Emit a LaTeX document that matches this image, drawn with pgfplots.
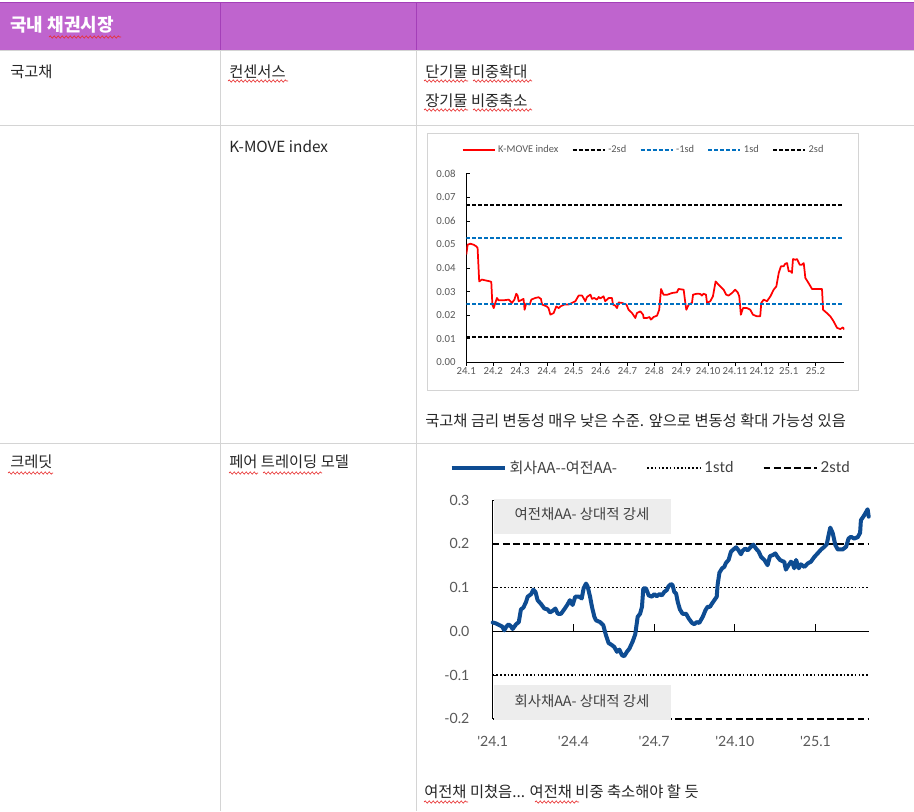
\documentclass[border=0pt]{standalone}
\usepackage{pgfplots}
\pgfplotsset{compat=1.18}
\usepackage{fontspec}
\setmainfont{Noto Sans CJK KR}
\newfontfamily\calfont{Carlito}
\newfontfamily\latofont{Lato}
\usetikzlibrary{decorations.pathmorphing}
\definecolor{hdr}{HTML}{BF64CE}
\definecolor{hdrline}{HTML}{A43FB8}
\definecolor{gridc}{HTML}{D4D4D4}
\definecolor{txt}{HTML}{262626}
\definecolor{txtb}{HTML}{404040}
\definecolor{sdblue}{HTML}{0070C0}
\definecolor{navy}{HTML}{0E4C92}
\definecolor{tickc}{HTML}{595959}
\definecolor{boxg}{HTML}{EDEDED}
\definecolor{squigc}{HTML}{E83030}
\tikzset{
  body/.style={anchor=west, inner sep=0pt, text=txt, font=\fontsize{11.5}{13}\selectfont},
  squig/.style={squigc, line width=0.5pt, decorate, decoration={snake, amplitude=0.8pt, segment length=3pt}}
}
\begin{document}
\begin{tikzpicture}[x=0.75pt,y=-0.75pt]
\path[use as bounding box] (0,0) rectangle (914,811);
\fill[white] (0,0) rectangle (914,811);
% header
\fill[hdr] (0,2) rectangle (914,50);
\draw[hdrline, line width=0.75pt] (0,2) -- (914,2);
\draw[hdrline, line width=0.6pt] (220,2) -- (220,50) (416,2) -- (416,50);
% grid
\draw[gridc, line width=0.75pt] (0,50) -- (914,50) (0,125) -- (914,125) (0,443) -- (914,443);
\draw[gridc, line width=0.75pt] (220,50) -- (220,811) (416,50) -- (416,811);
\draw[gridc, line width=0.75pt] (427,133) rectangle (858,390);
% texts
\node[anchor=west, inner sep=0pt, text=white, font=\fontsize{13.5}{15}\selectfont\bfseries] at (10,24.5) {국내 채권시장};
\node[body] at (10,71.5) {국고채};
\node[body] at (229,71.5) {컨센서스};
\node[body] at (425,71.5) {단기물 비중확대};
\node[body] at (425,101) {장기물 비중축소};
\node[body] at (229,146) {K-MOVE index};
\node[body] at (425,421) {국고채 금리 변동성 매우 낮은 수준. 앞으로 변동성 확대 가능성 있음};
\node[body] at (10,461.5) {크레딧};
\node[body] at (229,461.5) {페어 트레이딩 모델};
\node[body] at (424,791.5) {여전채 미쳤음... 여전채 비중 축소해야 할 듯};
% spell-check squiggles
\draw[squig] (49,37) -- (121,37);
\draw[squig] (228,81) -- (288,81);
\draw[squig] (424,81) -- (468,81);
\draw[squig] (473,81) -- (532,81);
\draw[squig] (424,110) -- (468,110);
\draw[squig] (473,110) -- (532,110);
\draw[squig] (8,473) -- (53,473);
\draw[squig] (229,473) -- (258,473);
\draw[squig] (263,473) -- (322,473);
\draw[squig] (424,802) -- (468,802);
\draw[squig] (535,802) -- (579,802);
\coordinate (c1) at (466.3,362.3);
\coordinate (c2) at (492.7,718.7);
% ---------- chart 1 ----------
\begin{axis}[
  at={(c1)}, anchor=south west,
  scale only axis, width=283.5pt, height=141.45pt,
  xmin=0, xmax=14.07, ymin=0, ymax=0.08,
  axis lines*=left,
  axis line style={black, line width=0.6pt},
  xtick={0,1,2,3,4,5,6,7,8,9,10,11,12,13},
  xticklabels={24.1,24.2,24.3,24.4,24.5,24.6,24.7,24.8,24.9,24.10,24.11,24.12,25.1,25.2},
  ytick={0,0.01,0.02,0.03,0.04,0.05,0.06,0.07,0.08},
  scaled y ticks=false,
  /pgf/number format/assume math mode=true,
  yticklabel style={/pgf/number format/fixed, /pgf/number format/fixed zerofill, /pgf/number format/precision=2, xshift=-4.5pt},
  xtick align=outside, ytick align=inside,
  major tick length=2.5pt,
  tick style={black, line width=0.5pt},
  tick label style={font=\calfont\fontsize{8.1}{9}\selectfont, text=tickc},
  xticklabel style={inner sep=1pt},
  legend style={at={(0.47,1.126)}, anchor=center, draw=none, fill=none,
    font=\calfont\fontsize{7.8}{8}\selectfont, nodes={text=tickc},
    legend columns=5, /tikz/every even column/.append style={column sep=8pt}},
  legend image code/.code={\draw[#1] (0pt,0pt) -- (24pt,0pt);},
]
\addplot[red, line width=1.3pt, line join=round] coordinates {
(0,0.0457) (0.05,0.0499) (0.15,0.0503) (0.27,0.0499) (0.37,0.0492) (0.42,0.0485) (0.48,0.0343) (0.58,0.0351) (0.77,0.0346) (0.89,0.0343) (0.93,0.0341) (0.97,0.0245) (1.02,0.0230) (1.08,0.0252) (1.14,0.0273) (1.20,0.0263) (1.39,0.0263) (1.58,0.0266) (1.70,0.0252) (1.79,0.0266) (1.86,0.0291) (1.91,0.0283) (1.95,0.0259) (2.03,0.0263) (2.13,0.0269) (2.17,0.0223) (2.23,0.0249) (2.36,0.0245) (2.42,0.0266) (2.57,0.0273) (2.69,0.0276) (2.78,0.0269) (2.82,0.0245) (3.00,0.0237) (3.06,0.0230) (3.13,0.0202) (3.25,0.0209) (3.35,0.0237) (3.44,0.0230) (3.50,0.0237) (3.65,0.0245) (3.81,0.0245) (3.93,0.0252) (4.06,0.0259) (4.18,0.0283) (4.31,0.0283) (4.43,0.0259) (4.49,0.0277) (4.62,0.0287) (4.68,0.0269) (4.76,0.0273) (4.86,0.0266) (4.93,0.0277) (4.99,0.0271) (5.11,0.0280) (5.17,0.0259) (5.30,0.0273) (5.42,0.0273) (5.46,0.0245) (5.55,0.0240) (5.61,0.0230) (5.67,0.0254) (5.79,0.0252) (5.96,0.0245) (6.04,0.0223) (6.17,0.0209) (6.29,0.0188) (6.35,0.0209) (6.48,0.0216) (6.58,0.0202) (6.60,0.0188) (6.72,0.0188) (6.82,0.0192) (6.87,0.0181) (6.97,0.0192) (7.10,0.0198) (7.18,0.0223) (7.25,0.0311) (7.34,0.0287) (7.49,0.0287) (7.66,0.0294) (7.84,0.0297) (7.90,0.0311) (8.09,0.0308) (8.15,0.0254) (8.19,0.0223) (8.28,0.0245) (8.40,0.0252) (8.44,0.0287) (8.59,0.0291) (8.71,0.0290) (8.77,0.0283) (8.83,0.0291) (8.92,0.0287) (8.96,0.0252) (9.08,0.0259) (9.18,0.0280) (9.28,0.0343) (9.39,0.0329) (9.58,0.0308) (9.67,0.0287) (9.76,0.0283) (9.89,0.0294) (10.01,0.0308) (10.10,0.0297) (10.16,0.0280) (10.22,0.0202) (10.30,0.0230) (10.45,0.0230) (10.57,0.0223) (10.67,0.0202) (10.82,0.0195) (10.94,0.0195) (10.98,0.0252) (11.07,0.0266) (11.19,0.0259) (11.32,0.0280) (11.44,0.0308) (11.54,0.0322) (11.63,0.0379) (11.71,0.0407) (11.81,0.0407) (11.87,0.0418) (11.94,0.0421) (12.00,0.0386) (12.08,0.0386) (12.12,0.0379) (12.16,0.0438) (12.25,0.0435) (12.31,0.0438) (12.41,0.0414) (12.49,0.0414) (12.56,0.0421) (12.62,0.0358) (12.74,0.0336) (12.87,0.0311) (13.05,0.0311) (13.24,0.0311) (13.28,0.0223) (13.42,0.0209) (13.55,0.0195) (13.67,0.0174) (13.80,0.0146) (13.92,0.0141) (14.02,0.0148) (14.07,0.0139)
};
\addlegendentry{K-MOVE index}
\addplot[black, line width=1.4pt, dash pattern=on 3pt off 1.5pt] coordinates {(0,0.0109) (14.07,0.0109)};
\addlegendentry{-2sd}
\addplot[sdblue, line width=1.4pt, dash pattern=on 3pt off 1.5pt] coordinates {(0,0.0247) (14.07,0.0247)};
\addlegendentry{-1sd}
\addplot[sdblue, line width=1.4pt, dash pattern=on 3pt off 1.5pt] coordinates {(0,0.0529) (14.07,0.0529)};
\addlegendentry{1sd}
\addplot[black, line width=1.4pt, dash pattern=on 3pt off 1.5pt] coordinates {(0,0.0669) (14.07,0.0669)};
\addlegendentry{2sd}
\end{axis}
% ---------- chart 2 ----------
\begin{axis}[
  at={(c2)}, anchor=south west,
  scale only axis, width=282pt, height=164pt,
  xmin=0, xmax=13.98, ymin=-0.2, ymax=0.3,
  axis lines*=left,
  x axis line style={draw=none},
  y axis line style={black, line width=1pt},
  xtick={0,3,6,9,12},
  xticklabels={'24.1,'24.4,'24.7,'24.10,'25.1},
  xtick style={draw=none},
  ytick={-0.2,-0.1,0,0.1,0.2,0.3},
  ytick align=inside,
  ytick style={black, line width=0.6pt},
  major tick length=2.5pt,
  scaled y ticks=false,
  /pgf/number format/assume math mode=true,
  yticklabel style={/pgf/number format/fixed, /pgf/number format/fixed zerofill, /pgf/number format/precision=1, xshift=-14pt},
  tick label style={font=\latofont\fontsize{10.6}{12}\selectfont, text=tickc},
  xticklabel style={yshift=-10pt},
  clip=false,
  legend style={at={(0.421,1.146)}, anchor=center, draw=none, fill=none,
    font=\fontsize{11.3}{13}\selectfont, nodes={text=txtb},
    legend columns=3, /tikz/every even column/.append style={column sep=20pt}},
  legend image code/.code={\draw[#1] (0pt,0pt) -- (40pt,0pt);},
]
\addlegendimage{navy, line width=3pt}
\addlegendentry{회사AA{-}{-}여전AA-}
\addlegendimage{black, line width=1.4pt, dash pattern=on 1.2pt off 1.6pt}
\addlegendentry{\latofont 1std}
\addlegendimage{black, line width=1.4pt, dash pattern=on 5pt off 2.6pt}
\addlegendentry{\latofont 2std}
\addplot[black, line width=1.4pt, dash pattern=on 5pt off 2.6pt, forget plot] coordinates {(0,0.2) (13.98,0.2)};
\addplot[black, line width=1.4pt, dash pattern=on 5pt off 2.6pt, forget plot] coordinates {(0,-0.2) (13.98,-0.2)};
\addplot[black, line width=1.4pt, dash pattern=on 1.2pt off 1.6pt, forget plot] coordinates {(0,0.1) (13.98,0.1)};
\addplot[black, line width=1.4pt, dash pattern=on 1.2pt off 1.6pt, forget plot] coordinates {(0,-0.1) (13.98,-0.1)};
\addplot[black, line width=1pt, forget plot] coordinates {(0,0) (13.98,0)};
\draw[black, line width=0.8pt] (axis cs:3,0) -- (axis cs:3,0.0176);
\draw[black, line width=0.8pt] (axis cs:6,0) -- (axis cs:6,0.0176);
\draw[black, line width=0.8pt] (axis cs:9,0) -- (axis cs:9,0.0176);
\draw[black, line width=0.8pt] (axis cs:12,0) -- (axis cs:12,0.0176);
\fill[boxg] (axis cs:0.04,0.303) rectangle (axis cs:6.63,0.223);
\fill[boxg] (axis cs:0.04,-0.123) rectangle (axis cs:6.63,-0.203);
\node[font=\fontsize{10.8}{12}\selectfont, text=txtb] at (axis cs:3.32,0.267) {여전채AA- 상대적 강세};
\node[font=\fontsize{10.8}{12}\selectfont, text=txtb] at (axis cs:3.32,-0.1595) {회사채AA- 상대적 강세};
\addplot[navy, line width=3pt, line join=round, line cap=round, forget plot] coordinates {
(0,0.020) (0.12,0.018) (0.25,0.014) (0.35,0.011) (0.43,0.002) (0.50,0.010) (0.59,0.016) (0.68,0.011) (0.74,0.005) (0.87,0.016) (0.97,0.021) (1.05,0.050) (1.14,0.054) (1.24,0.067) (1.30,0.079) (1.43,0.085) (1.51,0.095) (1.59,0.090) (1.67,0.071) (1.80,0.062) (1.92,0.052) (2.04,0.050) (2.13,0.043) (2.26,0.048) (2.33,0.052) (2.42,0.040) (2.54,0.040) (2.66,0.050) (2.79,0.062) (2.87,0.071) (2.97,0.060) (3.07,0.079) (3.22,0.079) (3.31,0.075) (3.38,0.098) (3.47,0.109) (3.53,0.102) (3.62,0.079) (3.69,0.056) (3.78,0.033) (3.84,0.025) (3.99,0.021) (4.11,0.014) (4.21,-0.009) (4.31,-0.027) (4.44,-0.032) (4.52,-0.036) (4.62,-0.047) (4.71,-0.042) (4.81,-0.055) (4.89,-0.057) (4.99,-0.047) (5.08,-0.040) (5.20,-0.024) (5.30,-0.007) (5.39,0.033) (5.48,0.040) (5.55,0.056) (5.60,0.098) (5.70,0.098) (5.80,0.082) (5.92,0.079) (6.01,0.085) (6.10,0.080) (6.20,0.085) (6.29,0.082) (6.38,0.090) (6.47,0.094) (6.54,0.103) (6.63,0.108) (6.69,0.105) (6.75,0.090) (6.82,0.086) (6.88,0.067) (6.96,0.050) (7.06,0.040) (7.19,0.040) (7.29,0.029) (7.41,0.019) (7.50,0.016) (7.58,0.021) (7.68,0.019) (7.81,0.033) (7.91,0.048) (7.99,0.056) (8.08,0.056) (8.15,0.063) (8.24,0.071) (8.33,0.079) (8.36,0.105) (8.43,0.134) (8.53,0.144) (8.61,0.147) (8.67,0.156) (8.77,0.163) (8.86,0.182) (8.95,0.187) (9.05,0.192) (9.14,0.185) (9.23,0.176) (9.29,0.184) (9.39,0.189) (9.48,0.185) (9.60,0.193) (9.69,0.198) (9.79,0.189) (9.89,0.182) (9.98,0.170) (10.10,0.163) (10.22,0.151) (10.31,0.172) (10.41,0.174) (10.51,0.178) (10.59,0.170) (10.68,0.163) (10.78,0.160) (10.84,0.159) (10.90,0.141) (11.00,0.151) (11.09,0.159) (11.15,0.155) (11.21,0.144) (11.28,0.163) (11.38,0.144) (11.46,0.153) (11.59,0.147) (11.71,0.155) (11.83,0.159) (11.96,0.170) (12.08,0.178) (12.21,0.187) (12.33,0.193) (12.42,0.199) (12.49,0.220) (12.55,0.237) (12.64,0.225) (12.74,0.197) (12.83,0.187) (13.01,0.187) (13.14,0.193) (13.23,0.212) (13.32,0.216) (13.44,0.212) (13.57,0.215) (13.66,0.225) (13.69,0.254) (13.78,0.262) (13.85,0.269) (13.94,0.279) (13.98,0.262)
};
\end{axis}
\end{tikzpicture}
\end{document}
